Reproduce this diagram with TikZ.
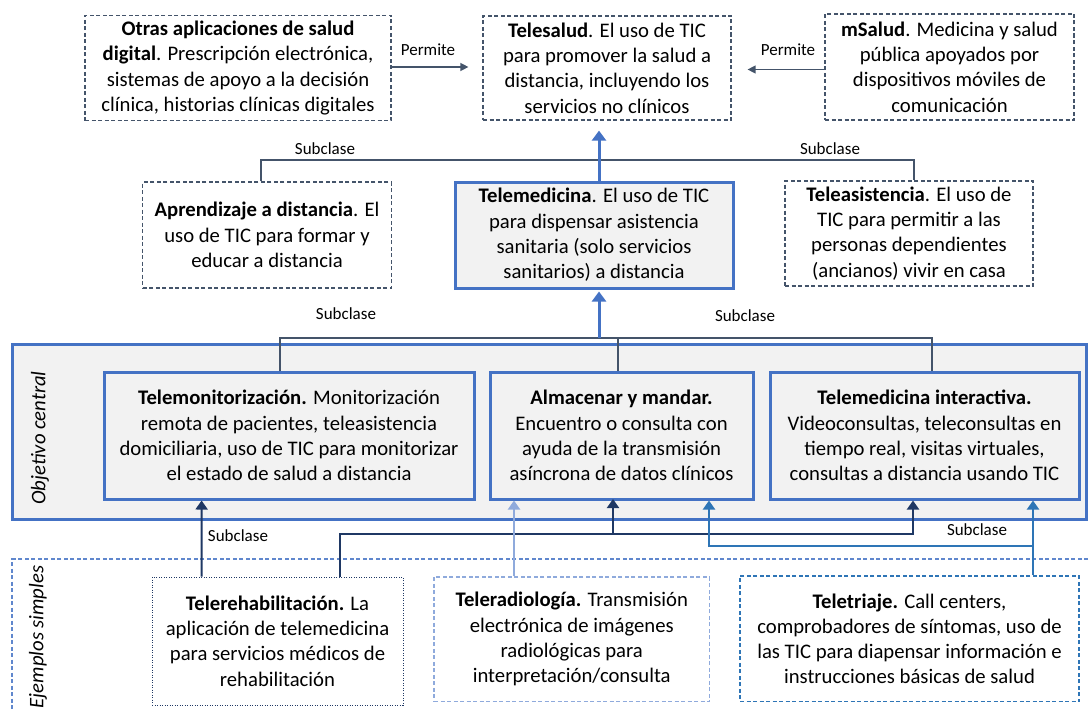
\documentclass[tikz,border=0pt]{standalone}
\usepackage{fontspec}
\setmainfont{Carlito}
\usetikzlibrary{arrows.meta}
\definecolor{slate}{HTML}{44546A}
\definecolor{mblue}{HTML}{4472C4}
\definecolor{navy}{HTML}{1F3864}
\definecolor{lblue}{HTML}{8FAADC}
\definecolor{sblue}{HTML}{2E75B6}
\definecolor{bandfill}{HTML}{F2F2F2}
\begin{document}
\begin{tikzpicture}[x=1pt,y=-1pt,
  txt/.style={align=center,font=\fontsize{20.7}{25.3}\selectfont,inner sep=0pt},
  dashp/.style={dash pattern=on 4pt off 2.5pt},
  dbox/.style={txt,draw=slate,dashp,line width=1.2pt,fill=white},
  bbox/.style={txt,draw=mblue,line width=3pt,fill=bandfill},
  lbl/.style={font=\fontsize{17}{20}\selectfont,inner sep=0pt},
  side/.style={font=\fontsize{20.7}{25}\selectfont\itshape,rotate=90,inner sep=0pt},
  thin/.style={draw=slate,line width=1.3pt},
  permite/.style={thin,-{Triangle[width=8pt,length=8pt]}},
  bigarrow/.style={draw=mblue,line width=3pt,-{Triangle[width=14pt,length=10pt]}},
  navyline/.style={draw=navy,line width=2pt},
  navyarrow/.style={navyline,-{Triangle[width=12pt,length=9pt]}},
  lbline/.style={draw=lblue,line width=2pt},
  lbarrow/.style={lbline,-{Triangle[width=12pt,length=9pt]}},
  sbline/.style={draw=sblue,line width=2pt},
  sbarrow/.style={sbline,-{Triangle[width=12pt,length=9pt]}}
]
\useasboundingbox (0,0) rectangle (1089,709);
\clip (0,0) rectangle (1089,709);

% regions
\node[draw=mblue,line width=3pt,fill=bandfill,minimum width=1074pt,minimum height=175pt,inner sep=0pt] (band) at (549,431.5) {};
\node[draw=mblue!85,dashp,line width=1.1pt,minimum width=1090pt,minimum height=170pt,inner sep=0pt] (ejem) at (557,644) {};
\node[side] (objlab) at (40,438) {Objetivo central};
\node[side] (ejelab) at (38,637) {Ejemplos simples};

% top row
\node[dbox,minimum width=306pt,minimum height=105pt] (otras) at (238,68) {\textbf{Otras aplicaciones de salud}\\\textbf{digital}. Prescripción electrónica,\\sistemas de apoyo a la decisión\\clínica, historias clínicas digitales};
\node[dbox,minimum width=248pt,minimum height=104pt] (tele) at (607,68) {\textbf{Telesalud}. El uso de TIC\\para promover la salud a\\distancia, incluyendo los\\servicios no clínicos};
\node[dbox,minimum width=249pt,minimum height=106pt] (msalud) at (949.5,67) {\textbf{mSalud}. Medicina y salud\\pública apoyados por\\dispositivos móviles de\\comunicación};

% second row
\node[dbox,minimum width=248.5pt,minimum height=106pt] (aprend) at (267,235) {\textbf{Aprendizaje a distancia}. El\\uso de TIC para formar y\\educar a distancia};
\node[bbox,minimum width=278pt,minimum height=106pt] (telemed) at (594,235) {\textbf{Telemedicina}. El uso de TIC\\para dispensar asistencia\\sanitaria (solo servicios\\sanitarios) a distancia};
\node[dbox,minimum width=248pt,minimum height=105pt] (teleasis) at (909,233.5) {\textbf{Teleasistencia}. El uso de\\TIC para permitir a las\\personas dependientes\\(ancianos) vivir en casa};

% band row
\node[bbox,minimum width=370pt,minimum height=127pt] (telemon) at (289,435.5) {\textbf{Telemonitorización.} Monitorización\\remota de pacientes, teleasistencia\\domiciliaria, uso de TIC para monitorizar\\el estado de salud a distancia};
\node[bbox,minimum width=263pt,minimum height=127pt] (almac) at (621.5,435.5) {\textbf{Almacenar y mandar.}\\Encuentro o consulta con\\ayuda de la transmisión\\asíncrona de datos clínicos};
\node[bbox,minimum width=309pt,minimum height=127pt] (inter) at (924.5,435.5) {\textbf{Telemedicina interactiva.}\\Videoconsultas, teleconsultas en\\tiempo real, visitas virtuales,\\consultas a distancia usando TIC};

% examples row
\node[txt,draw=navy,dash pattern=on 1pt off 1.5pt,line width=0.9pt,fill=white,minimum width=251pt,minimum height=128pt] (rehab) at (277.5,641) {\textbf{Telerehabilitación.} La\\aplicación de telemedicina\\para servicios médicos de\\rehabilitación};
\node[txt,draw=lblue,dashp,line width=1.1pt,fill=white,minimum width=275.5pt,minimum height=124.6pt] (radio) at (571.75,639.3) {\textbf{Teleradiología.} Transmisión\\electrónica de imágenes\\radiológicas para\\interpretación/consulta};
\node[txt,draw=sblue,dashp,line width=1.2pt,fill=white,minimum width=339pt,minimum height=125.6pt] (triaje) at (909.5,638.8) {\textbf{Teletriaje.} Call centers,\\comprobadores de síntomas, uso de\\las TIC para diapensar información e\\instrucciones básicas de salud};

% Permite arrows
\draw[permite] (otras.east |- 0,67) -- ([xshift=-14pt]tele.west |- 0,67);
\draw[permite] (msalud.west |- 0,69.5) -- ([xshift=16pt]tele.east |- 0,69.5);
\node[lbl] (p1) at (428,50) {Permite};
\node[lbl] (p2) at (788,50) {Permite};

% Subclase upper
\coordinate (j1) at (599,160);
\draw[thin] ([xshift=-6pt]aprend.north) |- (j1) -| ([xshift=5pt]teleasis.north);
\draw[bigarrow] ([xshift=5pt]telemed.north) -- ([xshift=-8pt,yshift=-10pt]tele.south);
\node[lbl] (s1) at (325,149) {Subclase};
\node[lbl] (s2) at (830,149) {Subclase};

% Subclase middle
\coordinate (j2) at (599,338);
\draw[thin] ([xshift=-9pt]telemon.north) |- (j2) -| ([xshift=7.5pt]inter.north);
\draw[thin] ([xshift=-3.5pt]almac.north) -- ([xshift=-3.5pt]almac.north |- j2);
\draw[bigarrow] (j2) -- ([xshift=5pt,yshift=-2pt]telemed.south);
\node[lbl] (s3) at (346,314) {Subclase};
\node[lbl] (s4) at (745,316) {Subclase};

% bottom connectors
\draw[navyarrow] ([xshift=-76pt]rehab.north) -- ([xshift=-87.4pt]telemon.south);
\node[lbl] (s5) at (238,536) {Subclase};
\coordinate (j3) at (913,534);
\draw[navyarrow] ([xshift=62.5pt]rehab.north) |- (j3) -- (j3 |- inter.south);
\draw[navyarrow] (613,534) -- (613,499);
\draw[lbarrow] ([xshift=-57.75pt]radio.north) -- ([xshift=-107.5pt]almac.south);
\coordinate (j4) at (1033,546);
\draw[sbarrow] ([xshift=123.5pt]triaje.north) -- (j4 |- inter.south);
\draw[sbarrow] (j4) -| ([xshift=87.5pt]almac.south);
\node[lbl] (s6) at (977,530) {Subclase};
\end{tikzpicture}
\end{document}
